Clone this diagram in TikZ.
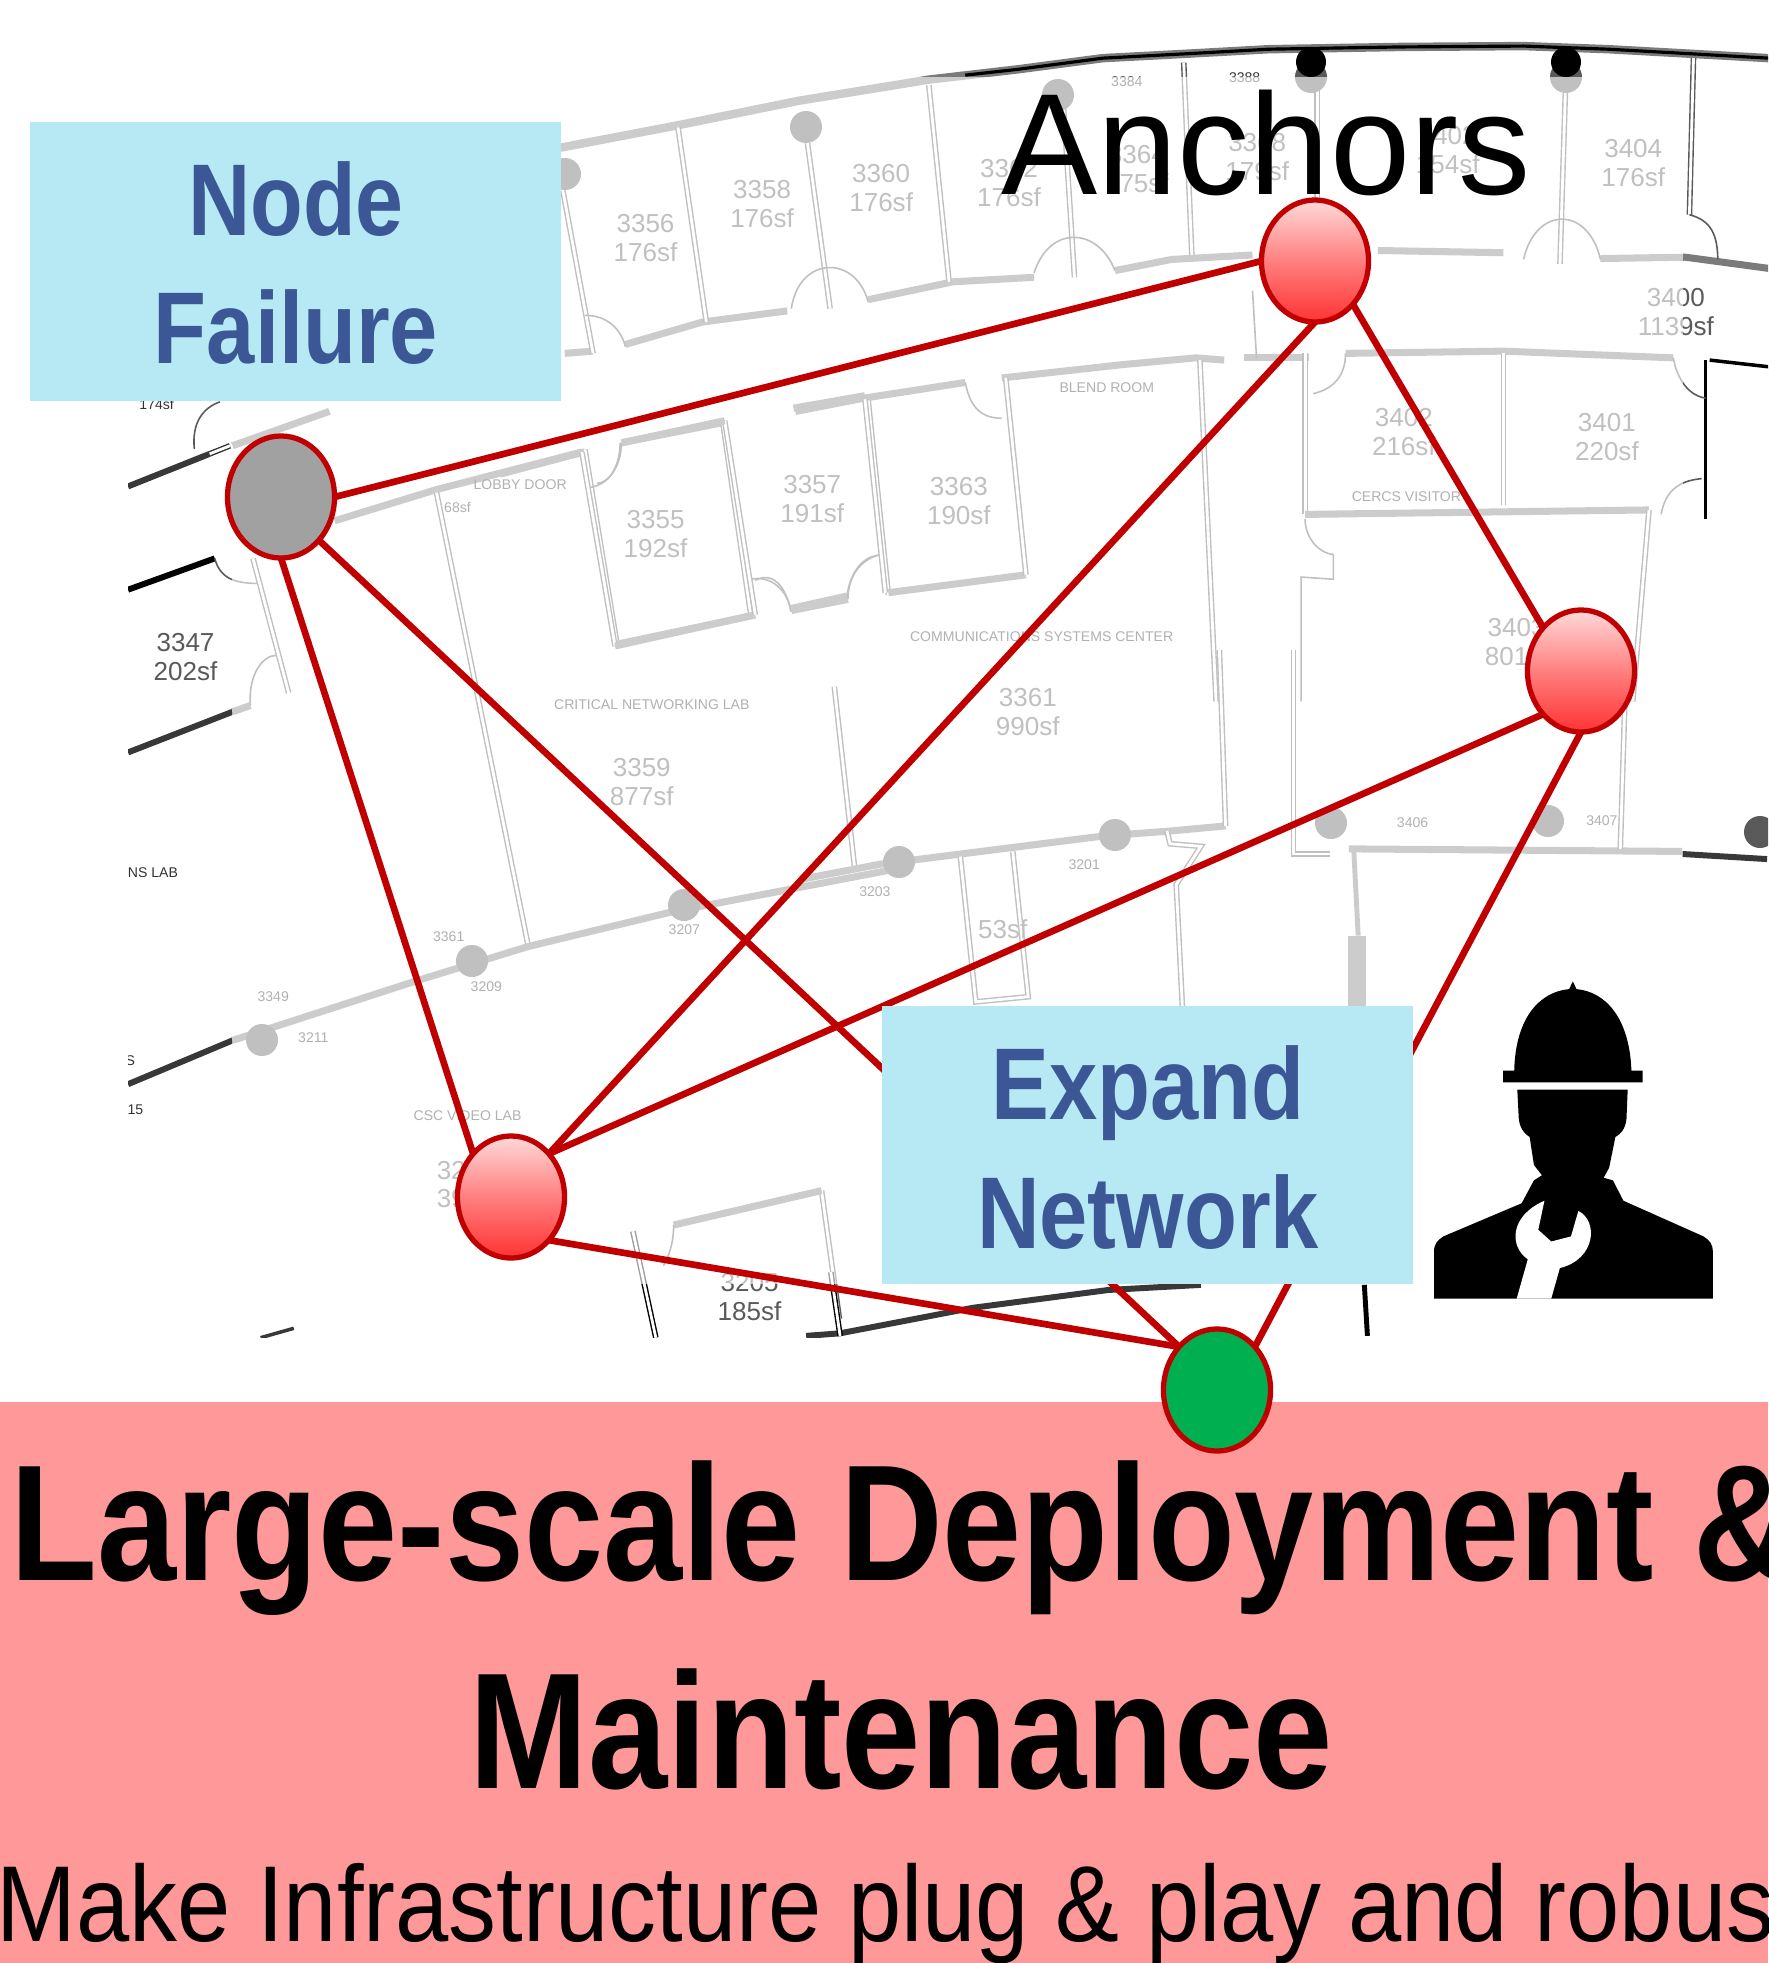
\documentclass[tikz,border=0pt]{standalone}
\usepackage{graphicx}
\usepackage{fontspec}
\setmainfont{Liberation Sans}
\usetikzlibrary{shapes.geometric}
\definecolor{edgered}{HTML}{C00000}
\definecolor{boxblue}{HTML}{B7E9F5}
\definecolor{boxtext}{HTML}{3B5795}
\definecolor{bandred}{HTML}{FF9999}
\definecolor{wallc}{HTML}{5A5A5A}
\definecolor{nodegreen}{HTML}{00B050}
\pgfdeclarelayer{planlayer}
\pgfdeclarelayer{edgelayer}
\pgfsetlayers{planlayer,edgelayer,main}
\tikzset{
  x=0.01cm,y=-0.01cm,
  wall/.style={draw=wallc,line width=.4pt,double=white,double distance=.8pt,line join=miter},
  thin wall/.style={draw=wallc,line width=.45pt},
  heavy wall/.style={draw=wallc!80!white,line width=2pt},
  dark wall/.style={draw=black!78,line width=1.7pt},
  column/.style={fill=wallc},
  anchorball/.style={ellipse,draw=edgered,line width=1.5pt,inner sep=0pt,outer sep=0pt,minimum width=1.07cm,minimum height=1.22cm},
  redball/.style={anchorball,top color=red!15!white,bottom color=red!80!white,middle color=red!50!white},
  link/.style={draw=edgered,line width=1.9pt},
  infotext/.style={anchor=base,text=boxtext,inner sep=0pt,font=\fontsize{29}{32}\selectfont\bfseries},
  titletext/.style={anchor=base,inner sep=0pt,text=black,font=\fontsize{47}{52}\selectfont\bfseries},
  subtext/.style={anchor=base west,inner sep=0pt,text=black,font=\fontsize{30.7}{34}\selectfont},
  biglabel/.style={align=center,inner sep=0pt,text=wallc,font=\fontsize{7.4}{8.2}\selectfont},
  smalllabel/.style={align=center,inner sep=0pt,text=black!80,font=\fontsize{4}{4.6}\selectfont},
}
\begin{document}
\begin{tikzpicture}
\useasboundingbox (0,0) rectangle (1768,1963);

\begin{pgfonlayer}{planlayer}
\fill[white] (0,0) rectangle (1768,1963);
% ---------- floor plan background ----------
\begin{scope}
\clip (128,40) rectangle (1768,1337);
% upper part, coordinates of crop 1
\begin{scope}[shift={(500,0)},x=0.008087cm,y=-0.004464cm]
  \draw[heavy wall,line width=2.4pt] (75,330) -- (220,280) -- (370,225) -- (530,178) -- (640,155) -- (745,130) -- (850,120) -- (950,110) -- (1110,105) -- (1265,103) -- (1370,110) -- (1450,118) -- (1568,130);
  \draw[draw=black,line width=.9pt] (575,168) -- (640,155) -- (745,130) -- (850,120) -- (950,110) -- (1110,105) -- (1265,103) -- (1370,110) -- (1450,118) -- (1568,130);
  \draw[heavy wall] (80,790) -- (115,785);
  \draw[heavy wall] (155,770) -- (250,720) -- (355,695);
  \draw[heavy wall] (455,670) -- (560,630) -- (660,620);
  \draw[heavy wall] (760,605) -- (830,580) -- (930,570);
  \draw[heavy wall] (1085,560) -- (1240,565);
  \draw[heavy wall] (1360,578) -- (1465,575) -- (1568,600);
  \draw[wall] (75,400) -- (115,790);
  \draw[wall] (220,285) -- (255,720);
  \draw[wall] (380,320) -- (408,690);
  \draw[wall] (530,190) -- (555,630);
  \draw[wall] (695,200) -- (710,620);
  \draw[wall] (845,140) -- (855,570);
  \draw[wall] (1010,130) -- (1010,450);
  \draw[wall] (1318,130) -- (1310,590);
  \draw[wall] (1475,130) -- (1470,480);
  \draw[thin wall] (105,705) .. controls (135,705) and (150,740) .. (155,775);
  \draw[thin wall] (360,690) .. controls (370,570) and (440,570) .. (455,675);
  \draw[thin wall] (660,610) .. controls (680,500) and (740,510) .. (760,605);
  \draw[thin wall] (1265,580) .. controls (1280,460) and (1345,460) .. (1360,580);
  \draw[thin wall] (1470,480) .. controls (1490,490) and (1505,510) .. (1505,580);
  \draw[heavy wall] (920,800) -- (1000,800);
  \draw[thin wall] (930,650) -- (935,800);
  \draw[heavy wall] (1045,790) -- (1240,785) -- (1450,800);
  \draw[draw=black,line width=1pt] (1495,805) -- (1568,820);
  \draw[draw=black,line width=1pt] (1490,805) -- (1490,1160);
  \draw[heavy wall] (365,920) -- (450,890) -- (575,855);
  \draw[heavy wall] (620,845) -- (770,815) -- (860,800) -- (895,805);
  \draw[heavy wall] (150,990) -- (275,945);
  \draw[heavy wall] (0,1060) -- (105,1010);
  \draw[wall] (105,1005) -- (145,1445);
  \draw[heavy wall] (145,1440) -- (315,1375);
  \draw[wall] (275,940) -- (310,1375);
  \draw[wall] (455,895) -- (480,1330);
  \draw[heavy wall] (480,1325) -- (650,1285);
  \draw[wall] (625,845) -- (650,1285);
  \draw[heavy wall] (360,1365) -- (430,1340);
  \draw[thin wall] (110,1090) .. controls (135,1085) and (150,1040) .. (150,990);
  \draw[thin wall] (310,1295) .. controls (335,1285) and (355,1320) .. (360,1365);
  \draw[thin wall] (430,1340) .. controls (430,1290) and (445,1250) .. (470,1240);
  \draw[thin wall] (575,855) .. controls (580,900) and (590,935) .. (620,935);
  \draw[wall] (865,805) -- (885,1568);
  \draw[wall] (995,790) -- (995,1150);
  \draw[wall] (1240,790) -- (1240,1130);
  \draw[heavy wall] (995,1150) -- (1420,1140);
  \draw[wall] (1420,1140) -- (1400,1568);
  \draw[thin wall] (1005,880) .. controls (1030,870) and (1045,840) .. (1045,790);
  \draw[thin wall] (1450,800) .. controls (1455,850) and (1470,885) .. (1490,890);
  \draw[thin wall] (1435,1150) .. controls (1440,1100) and (1455,1075) .. (1485,1070);
  \draw[thin wall] (995,1160) .. controls (995,1200) and (1010,1235) .. (1030,1240) -- (1030,1295) -- (990,1290) -- (990,1568);
\end{scope}
% left part, coordinates of crop 2
\begin{scope}[shift={(100,380)},x=0.0051cm,y=-0.00625cm]
  \draw[dark wall] (55,170) -- (215,118);
  \draw[wall,draw=black!80] (215,118) -- (255,105);
  \draw[dark wall,draw=black] (55,335) -- (225,285);
  \draw[thin wall] (225,285) .. controls (235,315) and (260,325) .. (310,325);
  \draw[dark wall] (55,595) -- (260,530);
  \draw[heavy wall] (260,530) -- (295,520);
  \draw[thin wall] (295,520) .. controls (290,470) and (320,440) .. (345,440);
  \draw[wall] (300,285) -- (370,500);
  \draw[thin wall] (185,110) .. controls (180,70) and (200,45) .. (235,35);
  \draw[heavy wall] (260,105) -- (450,50);
  \draw[heavy wall] (460,225) -- (660,175) -- (945,115);
  \draw[wall] (660,180) -- (840,905);
  \draw[wall] (945,115) -- (1010,425);
  \draw[heavy wall] (1010,425) -- (1285,375);
  \draw[wall] (1225,65) -- (1285,375);
  \draw[heavy wall] (1025,100) -- (1225,65);
  \draw[thin wall] (975,165) .. controls (1000,165) and (1020,135) .. (1020,100);
  \draw[thin wall] (1285,320) .. controls (1320,305) and (1345,330) .. (1355,370);
  \draw[heavy wall] (1355,365) -- (1465,345);
  \draw[thin wall] (1465,345) .. controls (1470,310) and (1495,280) .. (1530,280);
  \draw[wall] (1500,30) -- (1540,340);
  \draw[heavy wall] (1360,45) -- (1500,25);
  \draw[dark wall] (55,1125) -- (260,1055);
  \draw[heavy wall] (260,1055) -- (620,960) -- (840,905) -- (1120,850) -- (1568,780);
  \draw[wall] (1440,490) -- (1480,780);
  \draw[wall] (1415,1295) -- (1450,1500);
  \draw[heavy wall] (1125,1350) -- (1415,1295);
  \draw[thin wall] (1125,1350) .. controls (1125,1380) and (1115,1400) .. (1105,1415);
  \draw[wall,draw=black] (1045,1360) -- (1090,1530);
  \draw[dark wall,line width=1pt] (315,1530) -- (380,1515);
\end{scope}
% lower right part, coordinates of crop 3
\begin{scope}[shift={(800,650)},x=0.00617cm,y=-0.0051cm]
  \draw[heavy wall] (0,450) -- (130,420) -- (490,365) -- (600,355) -- (690,345);
  \draw[wall] (690,345) -- (680,0);
  \draw[wall] (595,355) -- (600,380) -- (650,385) -- (610,460) -- (620,700);
  \draw[wall] (260,405) -- (285,690) -- (370,680) -- (345,395);
  \draw[wall] (800,0) -- (800,400) -- (860,400);
  \draw[heavy wall] (890,390) -- (1430,395);
  \draw[dark wall] (1430,400) -- (1568,410);
  \draw[wall] (1340,0) -- (1330,390);
  \draw[heavy wall,line width=1.4pt] (898,395) -- (905,560);
  \draw[heavy wall,line width=5pt] (903,560) -- (903,700);
  \draw[dark wall] (10,1345) -- (65,1340) -- (280,1290) -- (500,1255) -- (650,1245);
  \draw[wall,draw=black] (50,1220) -- (65,1345);
  \draw[dark wall,draw=black,line width=1.4pt] (915,1245) -- (920,1345);
\end{scope}
% columns
\foreach \cx/\cy in {806/127,1058/95,1311/77,1566/77,565/174,262/1040,472/961,684/905,899/862,1115/835,1331/823,1548/821,1760/832}
  \fill[column] (\cx,\cy) circle [radius=0.16cm];
\fill[black] (1311,62) circle [radius=0.15cm];
\fill[black] (1566,62) circle [radius=0.15cm];
% room labels, coordinates of the 1412-wide view
\begin{scope}[x=0.01252cm,y=-0.01252cm]
  \foreach \lx/\ly/\lt [count=\li] in {515/190/{3356\\176sf},608/163/{3358\\176sf},703/150/{3360\\176sf},805/146/{3362\\176sf},907/135/{3364\\175sf},1003/125/{3368\\179sf},1155/120/{3402\\154sf},1303/130/{3404\\176sf},1337/249/{3400\\1139sf},1120/345/{3402\\216sf},1282/349/{3401\\220sf},523/426/{3355\\192sf},648/398/{3357\\191sf},765/400/{3363\\190sf},820/568/{3361\\990sf},512/624/{3359\\877sf},148/524/{3347\\202sf},1210/512/{3403\\801sf},800/741/{53sf},598/1035/{3205\\185sf},360/945/{32\\39}}
    \node[biglabel] (room\li) at (\lx,\ly) {\lt};
  \foreach \lx/\ly/\lt [count=\li] in {831/508/{COMMUNICATIONS SYSTEMS CENTER},520/562/{CRITICAL NETWORKING LAB},1122/396/{CERCS VISITOR},883/309/{BLEND ROOM},415/387/{LOBBY DOOR},373/890/{CSC VIDEO LAB},122/696/{NS LAB},125/323/{174sf},365/405/{68sf},108/885/{15},104/846/{S},899/65/{3384},993/62/{3388},358/747/{3361},388/787/{3209},218/795/{3349},250/828/{3211},546/742/{3207},698/711/{3203},865/690/{3201},1127/656/{3406},1278/655/{3407}}
    \node[smalllabel] (tag\li) at (\lx,\ly) {\lt};
\end{scope}
\end{scope}
% pale veil over the plan
\fill[white,opacity=.62] (232,77) rectangle (1683,1284);

% ---------- title band ----------
\fill[bandred] (0,1402) rectangle (1768,1963);
\node[titletext,anchor=base west] (title1) at (10,1580) {\scalebox{.86}[1]{Large-scale Deployment \&}};
\node[titletext] (title2) at (901,1788) {\scalebox{.862}[1]{Maintenance}};
\node[subtext] (title3) at (-4,1941) {\scalebox{.887}[1]{Make Infrastructure plug \& play and robust}};
\end{pgfonlayer}

% ---------- network nodes ----------
\node[anchorball,fill=black!37] (gray) at (281,497) {};
\node[redball] (top) at (1315,261) {};
\node[redball] (right) at (1581,671) {};
\node[redball] (bl) at (511,1197) {};
\node[anchorball,fill=nodegreen] (green) at (1217,1390) {};

% ---------- connectors ----------
\begin{pgfonlayer}{edgelayer}
\draw[link] (gray.east) -- (top.west);
\draw[link] (gray.south) -- (bl.north west);
\draw[link] (gray.south east) -- (green.north west);
\draw[link] (top.south) -- (bl.north east);
\draw[link] (top.south east) -- (right.north west);
\draw[link] (right.south west) -- (bl.north east);
\draw[link] (right.south) -- (green.north east);
\draw[link] (bl.south east) -- (green.north west);
\end{pgfonlayer}

% ---------- text boxes ----------
\fill[boxblue] (30,122) rectangle (561,401);
\fill[boxblue] (882,1006) rectangle (1413,1284);
\node[infotext] (nf1) at (296,235) {\scalebox{.845}[1]{Node}};
\node[infotext] (nf2) at (296,363) {\scalebox{.85}[1]{Failure}};
\node[infotext] (en1) at (1148,1119) {\scalebox{.85}[1]{Expand}};
\node[infotext] (en2) at (1148,1248) {\scalebox{.85}[1]{Network}};
\node[anchor=base,inner sep=0pt,font=\fontsize{41}{45}\selectfont] (anch) at (1266,194) {Anchors};

% ---------- worker icon ----------
\begin{scope}[shift={(800,650)},x=0.00617cm,y=-0.0051cm]
  \fill[black] (1158,825) .. controls (1160,720) and (1200,670) .. (1247,665) -- (1253,650) -- (1259,665) .. controls (1305,670) and (1345,720) .. (1348,825) -- (1366,825) -- (1366,848) -- (1140,848) -- (1140,825) -- cycle;
  \fill[black] (1163,862) -- (1342,862) -- (1340,920) .. controls (1338,940) and (1330,950) .. (1322,955) -- (1312,1015) -- (1303,1035) -- (1318,1040) -- (1335,1080) -- (1465,1150) .. controls (1475,1158) and (1480,1165) .. (1480,1180) -- (1480,1272) -- (1028,1272) -- (1028,1180) .. controls (1028,1165) and (1033,1158) .. (1043,1150) -- (1170,1085) -- (1190,1040) -- (1203,1030) -- (1190,1010) -- (1183,955) .. controls (1170,945) and (1165,930) .. (1165,910) -- cycle;
  \fill[white] (1162,1272) -- (1218,1272) -- (1232,1212) .. controls (1290,1195) and (1295,1120) .. (1262,1100) -- (1250,1150) -- (1218,1160) -- (1197,1137) -- (1207,1080) .. controls (1150,1110) and (1150,1170) .. (1180,1195) -- cycle;
\end{scope}
\end{tikzpicture}
\end{document}
